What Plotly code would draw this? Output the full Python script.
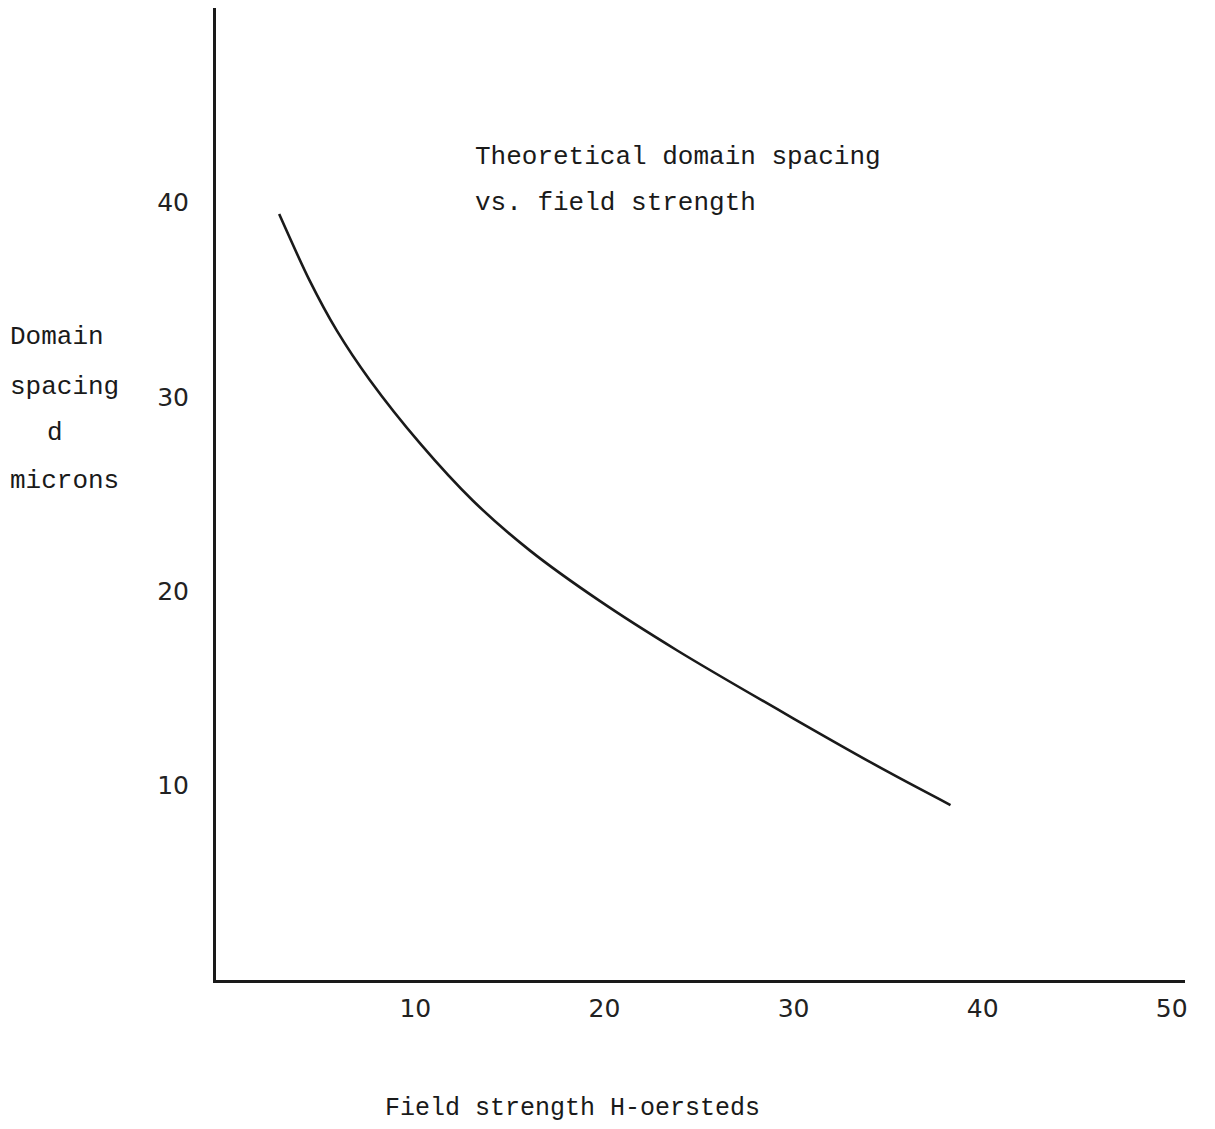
import plotly.graph_objects as go

# Data (field strength H in oersteds, spacing d in microns)
field_h = [2.8, 4.4, 5.85, 7.6, 10.25, 13.05, 16.05, 19.75, 23.85, 30.0, 35.1, 38.3]
spacing_d = [39.4, 36.0, 33.4, 30.85, 27.6, 24.65, 22.1, 19.5, 16.95, 13.45, 10.65, 9.0]

x_ticks = [10, 20, 30, 40, 50]
y_ticks = [10, 20, 30, 40]

W, H = 1215, 1129
OFF = 8  # page body margin offset
L, R, T, B = 216 - OFF, 38, 0, H - (980 - OFF)
PW, PH = W - L - R, H - T - B

def px(xp):
    return (xp - OFF - L) / PW

def py(yp):
    return 1 - (yp - OFF - T) / PH

mono = "Courier New, Liberation Mono, DejaVu Sans Mono, monospace"
ink = "#1a1a1a"

fig = go.Figure()
fig.add_trace(go.Scatter(
    x=field_h, y=spacing_d, mode="lines",
    line=dict(color=ink, width=2.6, shape="spline", smoothing=0.8),
    hoverinfo="skip", showlegend=False,
))

fig.update_layout(
    width=W, height=H,
    margin=dict(l=L, r=R, t=T, b=B),
    paper_bgcolor="white", plot_bgcolor="white",
    showlegend=False,
    xaxis=dict(
        range=[-0.54, 50.7], tickvals=x_ticks, ticktext=[str(v) for v in x_ticks],
        showgrid=False, zeroline=False, showline=True, linecolor=ink, linewidth=3,
        ticks="", ticklabelstandoff=4,
        tickfont=dict(family="DejaVu Sans, Liberation Sans, sans-serif", size=25, color="#222"),
    ),
    yaxis=dict(
        range=[0, 50.0], tickvals=y_ticks, ticktext=[str(v) for v in y_ticks],
        showgrid=False, zeroline=False, showline=True, linecolor=ink, linewidth=3,
        ticks="", ticklabelstandoff=19,
        tickfont=dict(family="DejaVu Sans, Liberation Sans, sans-serif", size=25, color="#222"),
    ),
)

annots = [
    ("Theoretical domain spacing", 473, 157, mono, 26),
    ("vs. field strength", 473, 203, mono, 26),
    ("Domain", 8, 337, mono, 26),
    ("spacing", 8, 387, mono, 26),
    ("d", 45, 433, mono, 26),
    ("microns", 8, 481, mono, 26),
    ("Field strength H-oersteds", 383, 1108, mono, 25),
]
for text, xp, yp, fam, size in annots:
    fig.add_annotation(
        text=text, xref="paper", yref="paper", x=px(xp), y=py(yp),
        xanchor="left", yanchor="middle", showarrow=False,
        font=dict(family=fam, size=size, color=ink),
    )

fig.write_html("out.html")
